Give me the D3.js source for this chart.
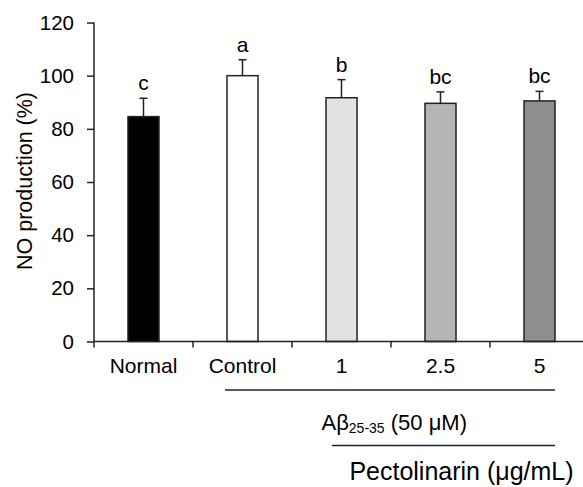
<!DOCTYPE html>
<html>
<head>
<meta charset="utf-8">
<script src="https://cdn.jsdelivr.net/npm/d3@7"></script>
<style>
  body { margin: 0; background: #fff; }
  svg { font-family: "Liberation Sans", Arial, sans-serif; }
  .axis path, .axis line { stroke: #222; stroke-width: 1.5; }
  .axis text { fill: #000; }
  .yaxis text { font-size: 20.5px; }
  .xaxis text { font-size: 21px; }
</style>
</head>
<body>
<div id="chart"></div>
<script>
const width = 583;
const height = 487;

const categories = ["Normal", "Control", "1", "2.5", "5"];
const means = [84.6, 100, 91.7, 89.6, 90.5];
const errors = [6.9, 6.0, 6.8, 4.3, 3.6];
const letters = ["c", "a", "b", "bc", "bc"];
const fills = ["#000000", "#ffffff", "#e2e2e2", "#b5b5b5", "#8e8e8e"];
const yTicks = [0, 20, 40, 60, 80, 100, 120];

const margin = { top: 22.5, left: 94 };
const plotBottom = 341.5;
const bandWidth = 99;

const svg = d3.select("#chart")
    .append("svg")
    .attr("width", width)
    .attr("height", height);

const x = d3.scaleBand()
    .domain(categories)
    .range([margin.left, margin.left + bandWidth * categories.length])
    .paddingInner(0)
    .paddingOuter(0);

const y = d3.scaleLinear()
    .domain([0, 120])
    .range([plotBottom, margin.top]);

const barW = 31;
const capW = 8;

// bars
svg.append("g")
    .selectAll("rect")
    .data(categories)
    .enter()
    .append("rect")
    .attr("x", d => x(d) + x.bandwidth() / 2 - barW / 2)
    .attr("y", (d, i) => y(means[i]))
    .attr("width", barW)
    .attr("height", (d, i) => y(0) - y(means[i]))
    .attr("fill", (d, i) => fills[i])
    .attr("stroke", "#222")
    .attr("stroke-width", 1.5);

// error bars (upper only)
const err = svg.append("g").attr("stroke", "#222").attr("stroke-width", 1.5);
categories.forEach((c, i) => {
    const cx = x(c) + x.bandwidth() / 2;
    err.append("line")
        .attr("x1", cx).attr("x2", cx)
        .attr("y1", y(means[i])).attr("y2", y(means[i] + errors[i]));
    err.append("line")
        .attr("x1", cx - capW / 2).attr("x2", cx + capW / 2)
        .attr("y1", y(means[i] + errors[i])).attr("y2", y(means[i] + errors[i]));
});

// significance letters
svg.append("g")
    .selectAll("text")
    .data(categories)
    .enter()
    .append("text")
    .attr("x", d => x(d) + x.bandwidth() / 2)
    .attr("y", (d, i) => y(means[i] + errors[i]) - 8)
    .attr("text-anchor", "middle")
    .attr("font-size", 21)
    .text((d, i) => letters[i]);

// y axis
svg.append("g")
    .attr("class", "axis yaxis")
    .attr("transform", `translate(${margin.left},0)`)
    .call(d3.axisLeft(y).tickValues(yTicks).tickSize(7).tickPadding(13).tickSizeOuter(0))
    .call(g => g.select(".domain").attr("d", `M0,${plotBottom}V${margin.top}`));

// x axis
svg.append("g")
    .attr("class", "axis xaxis")
    .attr("transform", `translate(0,${plotBottom})`)
    .call(d3.axisBottom(x).tickSize(0).tickPadding(16))
    .call(g => g.selectAll(".tick text").attr("dy", null).attr("y", 31.5))
    .call(g => g.select(".domain").attr("d", `M${margin.left},0H${width}`));

// x tick marks at band edges
svg.append("g")
    .attr("stroke", "#222")
    .attr("stroke-width", 1.5)
    .selectAll("line")
    .data(categories)
    .enter()
    .append("line")
    .attr("x1", d => x(d)).attr("x2", d => x(d))
    .attr("y1", plotBottom).attr("y2", plotBottom + 6);

// y axis title
svg.append("text")
    .attr("transform", `translate(32,181) rotate(-90)`)
    .attr("text-anchor", "middle")
    .attr("font-size", 21.5)
    .text("NO production (%)");

// group brackets
svg.append("line")
    .attr("x1", 225).attr("x2", 555)
    .attr("y1", 390).attr("y2", 390)
    .attr("stroke", "#222").attr("stroke-width", 1.5);

const ab = svg.append("text")
    .attr("x", 321.5)
    .attr("y", 430)
    .attr("font-size", 22);
ab.append("tspan").text("Aβ");
ab.append("tspan").attr("font-size", 14).attr("dy", 3).text("25-35");
ab.append("tspan").attr("dy", -3).text(" (50 μM)");

svg.append("line")
    .attr("x1", 332).attr("x2", 555)
    .attr("y1", 445.5).attr("y2", 445.5)
    .attr("stroke", "#222").attr("stroke-width", 1.5);

svg.append("text")
    .attr("x", 461.5)
    .attr("y", 480)
    .attr("text-anchor", "middle")
    .attr("font-size", 25)
    .text("Pectolinarin (μg/mL)");
</script>
</body>
</html>
